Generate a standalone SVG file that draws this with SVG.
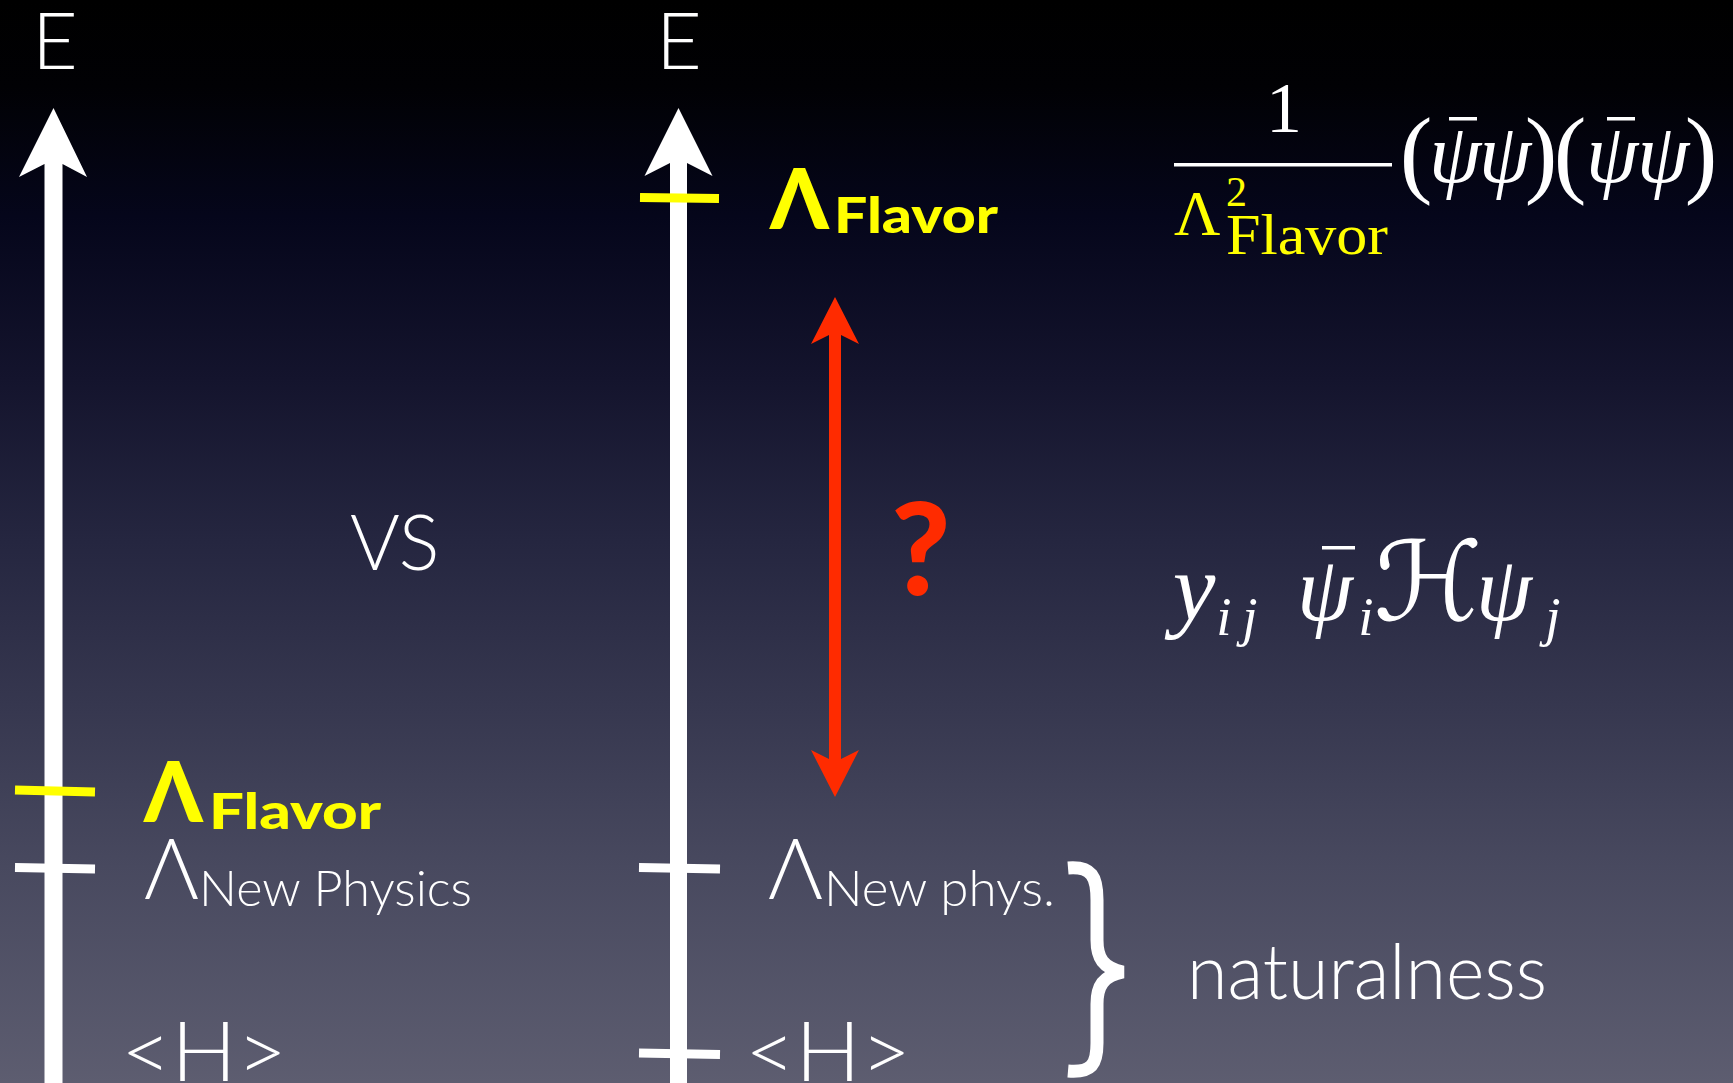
<svg xmlns="http://www.w3.org/2000/svg" width="1733" height="1083" viewBox="0 0 1733 1083">
<defs>
<linearGradient id="bg" x1="0" y1="0" x2="0" y2="1">
<stop offset="0" stop-color="#000000"/>
<stop offset="0.08" stop-color="#010104"/>
<stop offset="0.2" stop-color="#05061b"/>
<stop offset="0.35" stop-color="#14142d"/>
<stop offset="0.5" stop-color="#252640"/>
<stop offset="0.65" stop-color="#36374f"/>
<stop offset="0.8" stop-color="#48495f"/>
<stop offset="1" stop-color="#5d5d70"/>
</linearGradient>
<style>
.thin{font-family:Lato,"Open Sans","DejaVu Sans",sans-serif;font-weight:300;fill:#ffffff}
.heavy{font-family:Lato,"Open Sans","Liberation Sans",sans-serif;font-weight:900;fill:#ffff00}
.math{font-family:"Liberation Serif","DejaVu Serif",serif;fill:#ffffff}
.it{font-style:italic}
.yl{fill:#ffff00}
.tickw{stroke:#ffffff;stroke-width:9}
.ticky{stroke:#ffff00;stroke-width:9}
.axis{fill:#ffffff}
.red{fill:#ff2b00}
</style>
</defs>
<rect width="1733" height="1083" fill="url(#bg)"/>

<g id="connectors">
<polygon id="axis-left" class="axis" points="53.5,108 87,177 62.5,164 62.5,1083 44.5,1083 44.5,164 19,177"/>
<polygon id="axis-right" class="axis" points="678.5,108 712.5,176 687,163 687,1083 670,1083 670,163 644.5,176"/>
<polygon id="gap-arrow" class="red" points="835,297 859,344 841,335 841,759 859,750 835,797 811,750 829,759 829,335 811,344"/>
<path id="brace" d="M1068,868 C1092,866 1097,877 1097,900 L1097,940 C1097,958 1103,968 1123,972 C1103,976 1097,986 1097,1004 L1097,1043 C1097,1064 1092,1073 1068,1071" fill="none" stroke="#ffffff" stroke-width="13" stroke-linejoin="miter"/>
</g>

<g id="left-scale">
<text class="thin" x="32" y="69" font-size="79">E</text>
<line class="ticky" x1="15" y1="790" x2="95" y2="792"/>
<line class="tickw" x1="15" y1="867.5" x2="95" y2="869"/>
<text class="heavy" x="144" y="822" font-size="84">Λ</text>
<text class="heavy" x="209" y="829" font-size="50" textLength="172" lengthAdjust="spacingAndGlyphs">Flavor</text>
<text class="thin" x="144" y="899" font-size="84">Λ</text>
<text class="thin" x="199" y="906" font-size="50" textLength="273" lengthAdjust="spacingAndGlyphs">New Physics</text>
<text class="thin" x="121" y="1081" font-size="82" textLength="166" lengthAdjust="spacingAndGlyphs">&lt;H&gt;</text>
</g>

<g id="vs">
<text class="thin" x="350" y="570" font-size="76">VS</text>
</g>

<g id="right-scale">
<text class="thin" x="656" y="69" font-size="79">E</text>
<line class="ticky" x1="640" y1="197.5" x2="719" y2="198.5"/>
<line class="tickw" x1="639" y1="867.5" x2="720" y2="869"/>
<line class="tickw" x1="639" y1="1053" x2="720" y2="1054.5"/>
<text class="heavy" x="770" y="229" font-size="84">Λ</text>
<text class="heavy" x="834" y="233" font-size="50" textLength="164" lengthAdjust="spacingAndGlyphs">Flavor</text>
<text class="thin" x="768" y="899" font-size="84">Λ</text>
<text class="thin" x="824" y="906" font-size="50" textLength="231" lengthAdjust="spacingAndGlyphs">New phys.</text>
<text class="thin" x="745" y="1081" font-size="82" textLength="166" lengthAdjust="spacingAndGlyphs">&lt;H&gt;</text>
</g>

<g id="question">
<text x="891" y="595" font-size="128" font-family="Lato,'Liberation Sans',sans-serif" font-weight="900" fill="#ff2b00">?</text>
</g>

<g id="four-fermion">
<text class="math" x="1284" y="132" font-size="72" text-anchor="middle">1</text>
<rect x="1174" y="163" width="218" height="3.5" fill="#ffffff"/>
<text class="math yl" x="1174" y="235" font-size="64">Λ</text>
<text class="math yl" x="1226" y="206" font-size="42">2</text>
<text class="math yl" x="1226" y="254" font-size="56" textLength="162" lengthAdjust="spacingAndGlyphs">Flavor</text>
<text class="math" y="185" font-size="98" text-anchor="middle"><tspan x="1416">(</tspan><tspan x="1541">)</tspan><tspan x="1570">(</tspan><tspan x="1701">)</tspan></text>
<text class="math it" y="182" font-size="84" text-anchor="middle"><tspan x="1455">ψ</tspan><tspan x="1505">ψ</tspan><tspan x="1612">ψ</tspan><tspan x="1663">ψ</tspan></text>
<rect x="1449" y="117" width="28" height="3.5" fill="#ffffff"/>
<rect x="1607" y="117" width="28" height="3.5" fill="#ffffff"/>
</g>

<g id="yukawa">
<text class="math it" x="1194" y="620" font-size="96" text-anchor="middle">y</text>
<text class="math it" y="635" font-size="55" text-anchor="middle"><tspan x="1224">i</tspan><tspan x="1250">j</tspan></text>
<text class="math it" x="1325" y="620" font-size="90" text-anchor="middle">ψ</text>
<rect x="1322" y="546" width="33" height="3.5" fill="#ffffff"/>
<text class="math it" x="1366" y="635" font-size="55" text-anchor="middle">i</text>
<text x="1428" y="620" font-size="110" text-anchor="middle" font-family="'DejaVu Serif','DejaVu Sans',serif" fill="#ffffff">ℋ</text>
<text class="math it" x="1504" y="620" font-size="90" text-anchor="middle">ψ</text>
<text class="math it" x="1553" y="635" font-size="55" text-anchor="middle">j</text>
</g>

<g id="naturalness">
<text class="thin" x="1187" y="999" font-size="76" textLength="360" lengthAdjust="spacingAndGlyphs">naturalness</text>
</g>
</svg>
